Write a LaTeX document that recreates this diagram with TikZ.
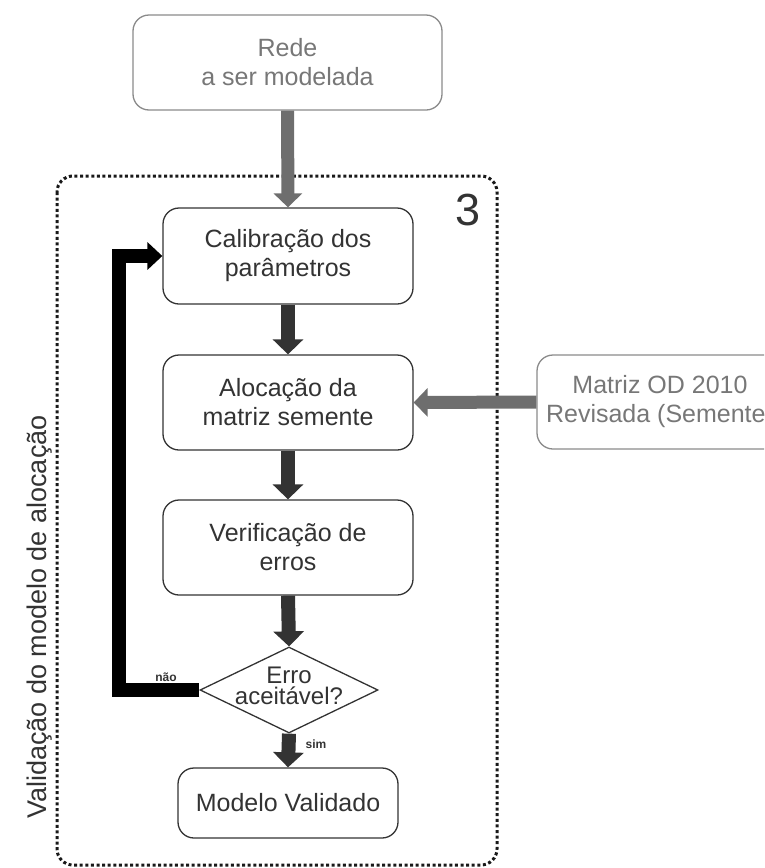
\documentclass[tikz,border=0pt]{standalone}
\usepackage{fontspec}
\setmainfont{Liberation Sans}
\usetikzlibrary{arrows.meta,shapes.geometric}
\definecolor{ink}{HTML}{333333}
\definecolor{soft}{HTML}{777777}
\definecolor{softline}{HTML}{8A8A8A}
\definecolor{greyarrow}{HTML}{6E6E6E}
\begin{document}
\begin{tikzpicture}[x=1pt,y=-1pt,
  boxtext/.style={font=\fontsize{25}{29}\selectfont, align=center},
  procbox/.style={boxtext, draw=ink, text=ink, line width=1.3pt,
    rounded corners=16pt, inner sep=0pt},
  extbox/.style={boxtext, draw=softline, text=soft, line width=1.3pt,
    rounded corners=16pt, inner sep=0pt},
  flowarrow/.style={draw=ink, line width=14pt,
    -{Triangle[width=30pt,length=15pt]}},
  inarrow/.style={draw=greyarrow, line width=13pt,
    -{Triangle[width=28pt,length=14pt]}},
  backarrow/.style={draw=black, line width=14pt, line join=miter,
    -{Triangle[width=27pt,length=15pt]}},
  branch/.style={font=\fontsize{12}{14}\selectfont\bfseries, text=ink}
]
\useasboundingbox (0,0) rectangle (764,868);
\begin{scope}
\clip (0,0) rectangle (764,868);

% dotted frame around the validation loop
\draw[draw=black!90, line width=3pt, dash pattern=on 3pt off 2.6pt,
  rounded corners=16pt] (57,176) rectangle (497,865);
\node[font=\fontsize{45}{45}\selectfont, text=ink] (num) at (468,210) {3};
\node[font=\fontsize{27}{30}\selectfont, text=ink, rotate=90]
  (frame) at (40,617) {Validação do modelo de alocação};

% external inputs
\node[extbox, minimum width=309pt, minimum height=95pt]
  (rede) at (287.5,62.5) {Rede\\a ser modelada};
\node[extbox, minimum width=246pt, minimum height=94pt]
  (matriz) at (660,402) {Matriz OD 2010\\Revisada (Semente)};

% process steps
\node[procbox, minimum width=250pt, minimum height=96pt]
  (calib) at (288,256) {Calibração dos\\parâmetros};
\node[procbox, minimum width=250pt, minimum height=95pt]
  (aloc) at (288,402.5) {Alocação da\\matriz semente};
\node[procbox, minimum width=250pt, minimum height=95pt]
  (verif) at (288,547.5) {Verificação de\\erros};
\node[draw=ink, line width=1.3pt, diamond, minimum width=178pt,
  minimum height=86pt, inner sep=0pt] (dec) at (289,690) {};
\node[font=\fontsize{24}{21}\selectfont, align=center, text=ink,
  inner sep=0pt] (dectext) at (289,686) {Erro\\aceitável?};
\node[procbox, minimum width=220pt, minimum height=70pt]
  (valid) at (288,803) {Modelo Validado};

% connectors
\draw[inarrow] (rede.south) -- (calib.north);
\draw[inarrow] (matriz.west) -- (aloc.east);
\draw[flowarrow] (calib.south) -- (aloc.north);
\draw[flowarrow] (aloc.south) -- (verif.north);
\draw[flowarrow] (verif.south) -- (dec.north);
\draw[flowarrow] (dec.south) -- (valid.north);
\draw[backarrow] (dec.west) -- ++(-80,0) |- (calib.west);

\node[branch] (nao) at (166,677) {não};
\node[branch] (sim) at (316,744) {sim};
\end{scope}
\end{tikzpicture}
\end{document}
